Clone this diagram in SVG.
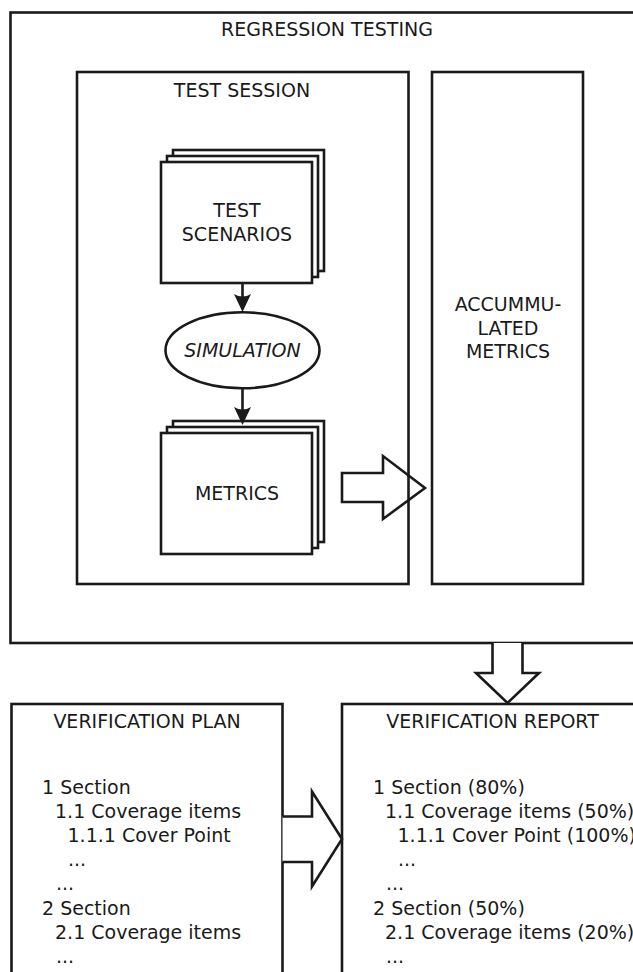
<svg xmlns="http://www.w3.org/2000/svg" width="633" height="972" viewBox="0 0 633 972">
<style>
.box{fill:#fff;stroke:#1a1a1a;stroke-width:2.6}
.frame{fill:none;stroke:#1a1a1a;stroke-width:2.6}
.conn{fill:none;stroke:#1a1a1a;stroke-width:2.6}
.block{fill:#fff;stroke:#1a1a1a;stroke-width:2.6;stroke-linejoin:miter}
text{font-family:"DejaVu Sans","Liberation Sans",sans-serif;font-size:19px;fill:#1a1a1a}
.c{text-anchor:middle}
.it{font-style:italic}
</style>
<defs>
<marker id="ah" viewBox="0 -9 18 18" markerWidth="18" markerHeight="18" refX="12" refY="0" orient="auto" markerUnits="userSpaceOnUse">
<path d="M18,0 L0,-8.5 Q5,0 0,8.5 Z" fill="#1a1a1a"/>
</marker>
</defs>
<rect width="633" height="972" fill="#fff"/>
<g id="regression-testing">
<rect class="frame" x="10.5" y="12.5" width="660" height="630.5"/>
<text class="c" x="327" y="36">REGRESSION TESTING</text>
</g>
<g id="test-session">
<rect class="frame" x="77" y="72" width="331.5" height="512"/>
<text class="c" x="242" y="97">TEST SESSION</text>
</g>
<g id="accumulated-metrics">
<rect class="box" x="432" y="72" width="151" height="512"/>
<text class="c" x="508" y="311">ACCUMMU-</text>
<text class="c" x="508" y="334.5">LATED</text>
<text class="c" x="508" y="358">METRICS</text>
</g>
<g id="test-scenarios">
<rect class="box" x="173" y="150" width="151" height="121"/>
<rect class="box" x="167" y="156" width="151" height="121"/>
<rect class="box" x="161" y="162" width="151" height="121"/>
<text class="c" x="237" y="217">TEST</text>
<text class="c" x="237" y="241">SCENARIOS</text>
</g>
<g id="simulation">
<ellipse class="box" cx="242.5" cy="350.3" rx="77" ry="38"/>
<text class="c it" x="242.5" y="357">SIMULATION</text>
</g>
<g id="metrics">
<rect class="box" x="173" y="421" width="151" height="121"/>
<rect class="box" x="167" y="427" width="151" height="121"/>
<rect class="box" x="161" y="433" width="151" height="121"/>
<text class="c" x="237" y="500">METRICS</text>
</g>
<g id="verification-plan">
<rect class="box" x="11.5" y="704" width="271" height="300"/>
<text class="c" x="147" y="728">VERIFICATION PLAN</text>
<text x="42" y="794">1 Section</text>
<text x="55" y="818">1.1 Coverage items</text>
<text x="67.5" y="842">1.1.1 Cover Point</text>
<text x="68" y="866">...</text>
<text x="56" y="890">...</text>
<text x="42" y="914.5">2 Section</text>
<text x="55" y="938.5">2.1 Coverage items</text>
<text x="56" y="962.5">...</text>
</g>
<g id="verification-report">
<rect class="box" x="342" y="704" width="320" height="300"/>
<text class="c" x="492.5" y="728">VERIFICATION REPORT</text>
<text x="373" y="794">1 Section (80%)</text>
<text x="385" y="818">1.1 Coverage items (50%)</text>
<text x="397.5" y="842">1.1.1 Cover Point (100%)</text>
<text x="398" y="866">...</text>
<text x="386" y="890">...</text>
<text x="373" y="914.5">2 Section (50%)</text>
<text x="385" y="938.5">2.1 Coverage items (20%)</text>
<text x="386" y="962.5">...</text>
</g>
<g id="connectors">
<line class="conn" x1="242.5" y1="283" x2="242.5" y2="306" marker-end="url(#ah)"/>
<line class="conn" x1="242.5" y1="388.5" x2="242.5" y2="419" marker-end="url(#ah)"/>
<polygon class="conn" points="342,473 383,473 383,456 425,488 383,519 383,502 342,502"/>
<polyline class="block" points="492.5,643 492.5,673 476,673 507.5,703 539,673 522.5,673 522.5,643"/>
<polyline class="block" points="282.5,816.5 312,816.5 312,791.5 342,839 312,886.5 312,862 282.5,862"/>
</g>
</svg>
